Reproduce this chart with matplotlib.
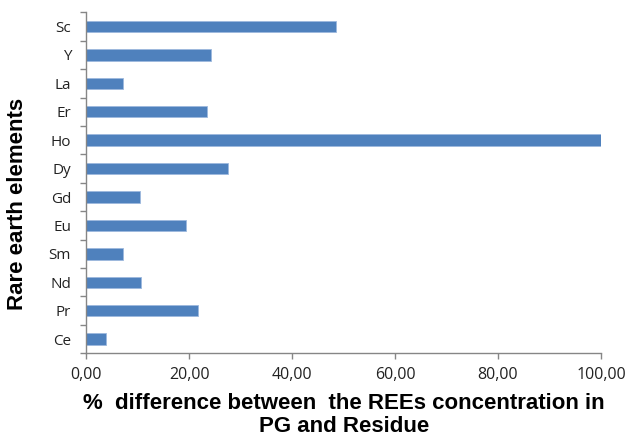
import matplotlib
matplotlib.use("Agg")
import matplotlib.pyplot as plt
import numpy as np

elements = ["Ce", "Pr", "Nd", "Sm", "Eu", "Gd", "Dy", "Ho", "Er", "La", "Y", "Sc"]
values = [3.8, 21.7, 10.6, 7.2, 19.3, 10.4, 27.6, 100.0, 23.4, 7.2, 24.2, 48.6]
xticks = [0, 20, 40, 60, 80, 100]
xticklabels = ["0,00", "20,00", "40,00", "60,00", "80,00", "100,00"]

fig = plt.figure(figsize=(6.27, 4.43), dpi=100)
ax = fig.add_axes([0.1377, 0.2025, 0.8208, 0.7697])

y = np.arange(len(elements))
ax.barh(y, values, height=0.4, color="#4F81BD", edgecolor="#9DB9DD", linewidth=0.6)

ax.set_xlim(0, 100)
ax.set_ylim(-0.5, len(elements) - 0.5)

axis_color = "#868686"
for s in ["top", "right"]:
    ax.spines[s].set_visible(False)
for s in ["left", "bottom"]:
    ax.spines[s].set_color(axis_color)
    ax.spines[s].set_linewidth(1.0)

ax.set_yticks(y)
ax.set_yticklabels(elements, fontsize=11, family="Open Sans", color="#222222")
ax.tick_params(axis="y", which="major", length=0, pad=11)
ax.set_yticks(np.arange(-0.5, len(elements), 1.0), minor=True)
ax.tick_params(axis="y", which="minor", length=4.5, color=axis_color, width=1.0)

ax.set_xticks(xticks)
ax.set_xticklabels(xticklabels, fontsize=11.5, family="Open Sans", color="#222222")
ax.tick_params(axis="x", which="major", length=4, color=axis_color, width=1.0, pad=6)

ax.set_xlabel("%  difference between  the REEs concentration in\nPG and Residue",
              fontsize=16, fontweight="bold", family="Liberation Sans",
              labelpad=7, linespacing=1.1)
ax.set_ylabel("Rare earth elements", fontsize=16, fontweight="bold",
              family="Liberation Sans", va="center")
ax.yaxis.set_label_coords(-0.133, 0.438)

fig.savefig("out.png", dpi=100)
